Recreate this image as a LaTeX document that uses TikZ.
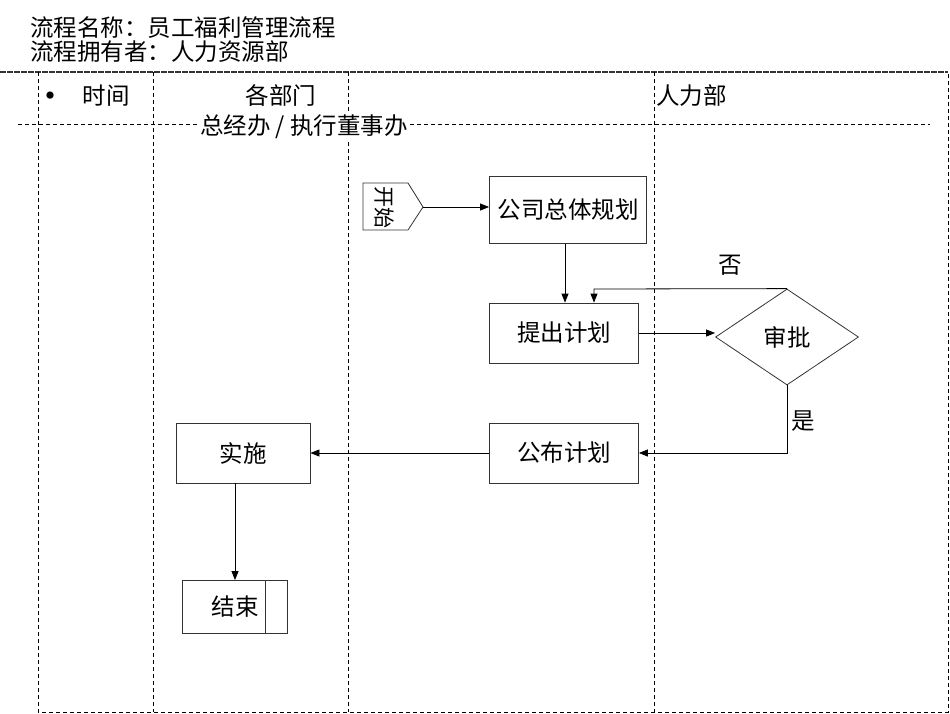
\documentclass[tikz,border=0pt]{standalone}
\usepackage{fontspec}
\setmainfont{Noto Sans CJK SC}
\usetikzlibrary{arrows.meta,shapes.geometric}

\begin{document}
\begin{tikzpicture}
  [x=1pt,y=-1pt,
   every node/.style={font=\fontsize{23.5}{27}\selectfont,inner sep=0pt},
   box/.style={draw=black!80,thick,minimum width=#1,minimum height=60},
   lane/.style={dashed,thick,dash pattern=on 4pt off 3pt},
   flow/.style={thick,-{Triangle[length=9pt,width=7pt]}}]
  \useasboundingbox (0,0) rectangle (950,713);

  % title
  \node[anchor=west] (title) at (30,28) {流程名称：员工福利管理流程};
  \node[anchor=west] (owner) at (30,52) {流程拥有者：人力资源部};

  % lanes
  \draw[line width=1.3pt,black!80,dash pattern=on 6pt off 1pt] (0,72) -- (948,72);
  \draw[lane] (18,124) -- (930,124);
  \draw[lane] (38,72) -- (38,712) -- (948,712) -- (948,72);
  \draw[lane] (153,72) -- (153,712);
  \draw[lane] (348,72) -- (348,712);
  \draw[lane] (654,72) -- (654,712);

  % lane headers
  \node[font=\fontsize{34}{34}\selectfont] (dot) at (50,100) {•};
  \node (time) at (106,96) {时间};
  \node (dept) at (281,96) {各部门};
  \node[fill=white,inner sep=1pt] (gm) at (304,127) {总经办 / 执行董事办};
  \node[anchor=west] (hr) at (656,96) {人力部};

  % start
  \draw[thick,black!80] (363,183) -- (408,183) -- (423,207) -- (408,230) -- (363,230) -- cycle;
  \coordinate (start) at (423,207);
  \node[rotate=-90,font=\fontsize{21}{24}\selectfont] (starttext) at (384,207) {开始};

  \node[box=157,minimum height=67] (plan) at (568,210) {公司总体规划};
  \node[box=149] (propose) at (564,333) {提出计划};
  \node[draw=black!80,thick,minimum width=143,minimum height=96,
        diamond] (approve) at (787,337) {审批};
  \node[box=149] (publish) at (564,453) {公布计划};
  \node[box=134] (act) at (243,453) {实施};
  \node[box=105,minimum height=53] (finish) at (235,607) {结束};
  \draw[thick,black!80] (265,580) -- (265,633);

  % flow
  \draw[flow] (start) -- (plan.west |- start);
  \draw[flow] (plan.south -| 565,0) -- (propose.north -| 565,0);
  \draw[flow] (propose.east) -- (approve.west |- propose.east);
  \draw[flow] (approve.north) -- (594,289) -- (propose.north -| 594,0);
  \node (no) at (730,265) {否};
  \draw[flow] (approve.south) -- (approve.south |- publish.east) -- (publish.east);
  \node[fill=white,inner ysep=8pt,inner xsep=2pt] (yes) at (803,421) {是};
  \draw[flow] (publish.west) -- (act.east);
  \draw[flow] (act.south -| finish.north) -- (finish.north);

\end{tikzpicture}
\end{document}
